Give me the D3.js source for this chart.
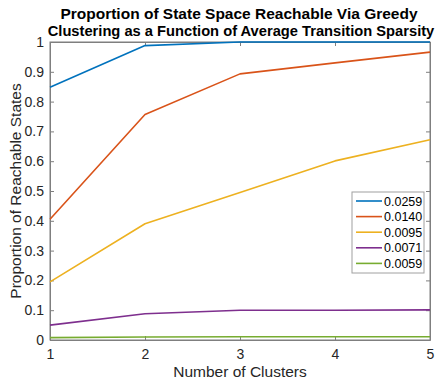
<!DOCTYPE html>
<html><head><meta charset="utf-8">
<script src="https://cdn.jsdelivr.net/npm/d3@7"></script>
<style>body{margin:0;background:#fff}svg{display:block}text{font-family:"Liberation Sans",Arial,sans-serif}</style>
</head><body>
<svg id="c" width="437" height="383"></svg>
<script>
const clusters = [1, 2, 3, 4, 5];
const seriesNames = ["0.0259", "0.0140", "0.0095", "0.0071", "0.0059"];
const s0259 = [0.848, 0.988, 1.0, 1.0, 1.0];
const s0140 = [0.405, 0.757, 0.893, 0.930, 0.966];
const s0095 = [0.195, 0.390, 0.495, 0.601, 0.672];
const s0071 = [0.050, 0.088, 0.100, 0.100, 0.101];
const s0059 = [0.008, 0.010, 0.011, 0.011, 0.011];
const yTicks = [0, 0.1, 0.2, 0.3, 0.4, 0.5, 0.6, 0.7, 0.8, 0.9, 1];
const yTickLabels = ["0", "0.1", "0.2", "0.3", "0.4", "0.5", "0.6", "0.7", "0.8", "0.9", "1"];
const colors = ["#0072BD", "#D95319", "#EDB120", "#7E2F8E", "#77AC30"];
const allSeries = [s0259, s0140, s0095, s0071, s0059];

const svg = d3.select("#c");
const L = 50, R = 430, T = 42, B = 340;
const x = d3.scaleLinear().domain([1, 5]).range([L, R]);
const y = d3.scaleLinear().domain([0, 1]).range([B, T]);
const axisCol = "#7f7f7f", textCol = "#262626";

svg.append("rect").attr("x", L).attr("y", T).attr("width", R - L).attr("height", B - T)
  .attr("fill", "none").attr("stroke", axisCol).attr("stroke-width", 1);

const tickLen = 4;
const gx = svg.append("g").attr("transform", `translate(0,${B})`)
  .call(d3.axisBottom(x).tickValues(clusters).tickFormat(d3.format("d")).tickSizeInner(-tickLen).tickSizeOuter(0).tickPadding(9));
const gxt = svg.append("g").attr("transform", `translate(0,${T})`)
  .call(d3.axisTop(x).tickValues(clusters).tickFormat("").tickSizeInner(-tickLen).tickSizeOuter(0));
const gy = svg.append("g").attr("transform", `translate(${L},0)`)
  .call(d3.axisLeft(y).tickValues(yTicks).tickFormat((d, i) => yTickLabels[i]).tickSizeInner(-tickLen).tickSizeOuter(0).tickPadding(6));
const gyr = svg.append("g").attr("transform", `translate(${R},0)`)
  .call(d3.axisRight(y).tickValues(yTicks).tickFormat("").tickSizeInner(-tickLen).tickSizeOuter(0));
[gx, gxt, gy, gyr].forEach(g => {
  g.select(".domain").attr("stroke", axisCol);
  g.selectAll(".tick line").attr("stroke", axisCol);
  g.selectAll(".tick text").attr("fill", textCol).style("font-size", "14px").style("font-family", '"Liberation Sans",Arial,sans-serif');
});

const line = d3.line().x((d, i) => x(clusters[i])).y(d => y(d));
allSeries.forEach((s, k) => {
  svg.append("path").datum(s).attr("d", line).attr("fill", "none")
    .attr("stroke", colors[k]).attr("stroke-width", 1.6).attr("stroke-linejoin", "round");
});

svg.append("text").attr("x", 239).attr("y", 19).attr("text-anchor", "middle")
  .attr("font-weight", "bold").attr("font-size", "15.5px").attr("fill", "#000")
  .text("Proportion of State Space Reachable Via Greedy");
svg.append("text").attr("x", 241).attr("y", 36).attr("text-anchor", "middle")
  .attr("font-weight", "bold").attr("font-size", "14.7px").attr("fill", "#000")
  .text("Clustering as a Function of Average Transition Sparsity");

svg.append("text").attr("x", 240).attr("y", 377).attr("text-anchor", "middle")
  .attr("font-size", "15.5px").attr("fill", textCol).text("Number of Clusters");
svg.append("text").attr("transform", "translate(21,191) rotate(-90)").attr("text-anchor", "middle")
  .attr("font-size", "15.5px").attr("fill", textCol).text("Proportion of Reachable States");

const lg = svg.append("g");
lg.append("rect").attr("x", 352).attr("y", 192).attr("width", 72).attr("height", 81)
  .attr("fill", "#fff").attr("stroke", "#a0a0a0").attr("stroke-width", 1);
seriesNames.forEach((n, k) => {
  const yy = 201 + k * 15.6;
  lg.append("line").attr("x1", 356).attr("x2", 382).attr("y1", yy).attr("y2", yy)
    .attr("stroke", colors[k]).attr("stroke-width", 1.6);
  lg.append("text").attr("x", 384).attr("y", yy + 4.5).attr("font-size", "12.5px").attr("fill", "#000").text(n);
});
</script>
</body></html>
